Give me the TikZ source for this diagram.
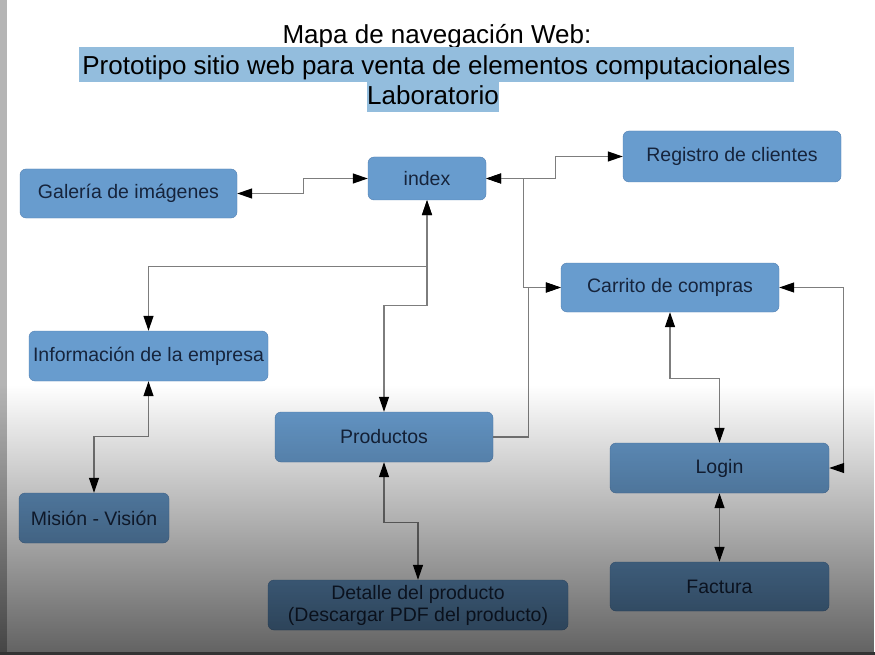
\documentclass[tikz,border=0pt]{standalone}
\usepackage{fontspec}
\setmainfont{Liberation Sans}
\usetikzlibrary{arrows.meta,fadings}
\definecolor{cajaazul}{RGB}{104,156,206}
\definecolor{bordeazul}{RGB}{82,128,178}
\definecolor{textoazul}{RGB}{22,36,60}
\definecolor{resalte}{RGB}{147,189,221}
\definecolor{lineagris}{RGB}{125,125,125}
\tikzfading[name=oscurecer, top color=transparent!100, bottom color=transparent!38]

\begin{document}
\begin{tikzpicture}[x=1pt, y=-1pt,
    caja/.style={draw=bordeazul, fill=cajaazul, rounded corners=6pt, inner sep=0pt,
        text=textoazul, font=\fontsize{19.5}{22}\selectfont, align=center},
    enlace/.style={draw=lineagris, line width=1.2pt,
        {Triangle[length=15pt,width=10pt,color=black]}-{Triangle[length=15pt,width=10pt,color=black]}},
    ida/.style={draw=lineagris, line width=1.2pt, -{Triangle[length=15pt,width=10pt,color=black]}},
    titulo/.style={inner ysep=0pt, anchor=base, font=\fontsize{26}{30}\selectfont}]
    % fondo
    \fill[white] (0,0) rectangle (875,655);
    \fill[gray!58] (0,0) rectangle (7,655);
    % titulo
    \node[titulo] (mapa) at (437,44) {Mapa de navegación Web:};
    \node[titulo, fill=resalte, inner xsep=3pt, text height=28pt, text depth=7pt] (prototipo) at (436.5,75) {Prototipo sitio web para venta de elementos computacionales};
    \node[titulo, fill=resalte, inner xsep=0pt, text height=23pt, text depth=7pt] (lab) at (433,105) {Laboratorio};
    % paginas
    \node[caja, minimum width=217pt, minimum height=49pt] (galeria) at (128.5,193.5) {Galería de imágenes};
    \node[caja, minimum width=118pt, minimum height=43pt] (index) at (427,178.5) {index};
    \node[caja, minimum width=218pt, minimum height=51pt] (registro) at (732,156.5) {Registro de clientes};
    \node[caja, minimum width=218pt, minimum height=49pt] (carrito) at (670,287.5) {Carrito de compras};
    \node[caja, minimum width=239pt, minimum height=50pt] (info) at (148.5,356) {Información de la empresa};
    \node[caja, minimum width=218pt, minimum height=50pt] (productos) at (384,437) {Productos};
    \node[caja, minimum width=219pt, minimum height=50pt] (login) at (719.5,468) {Login};
    \node[caja, minimum width=150pt, minimum height=50pt] (mision) at (94,518) {Misión - Visión};
    \node[caja, minimum width=300pt, minimum height=50pt] (detalle) at (418,605) {Detalle del producto\\(Descargar PDF del producto)};
    \node[caja, minimum width=219pt, minimum height=49pt] (factura) at (719.5,586.5) {Factura};
    % enlaces
    \draw[enlace] (galeria.east) -- ++(66,0) |- (index.west);
    \draw[enlace] (index.south) -- ++(0,66) -| (info.north);
    \draw[enlace] (index.south) -- ++(0,105) -| (productos.north);
    \draw[enlace] (index.east) -- ++(69,0) |- (registro.west);
    \draw[enlace] (index.east) -- ++(37,0) |- (carrito.west);
    \draw[ida] (productos.east) -- ++(35,0) |- (carrito.west);
    \draw[enlace] (carrito.south) -- ++(0,66) -| (login.north);
    \draw[enlace] (carrito.east) -- ++(64,0) |- (login.east);
    \draw[enlace] (login.south) -- (factura.north);
    \draw[enlace] (info.south) -- ++(0,55) -| (mision.north);
    \draw[enlace] (productos.south) -- ++(0,60) -| (detalle.north);
    % sombra inferior
    \fill[black, path fading=oscurecer] (0,385) rectangle (875,655);
    \fill[black!80] (0,652) rectangle (875,655);
\end{tikzpicture}
\end{document}
